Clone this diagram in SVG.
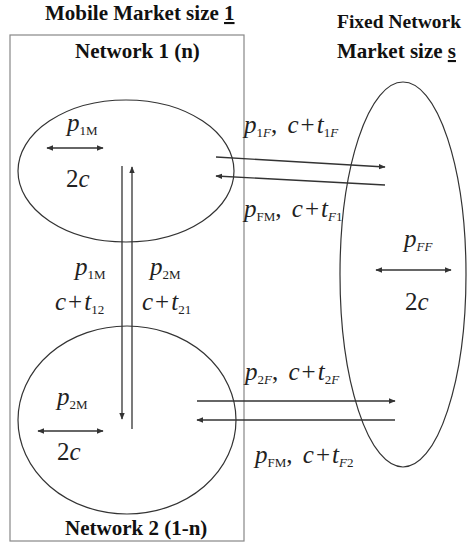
<svg xmlns="http://www.w3.org/2000/svg" width="467" height="547" viewBox="0 0 467 547">
<style>
.t{font-family:"Liberation Serif","Times New Roman",serif;font-weight:bold;font-size:21px;fill:#111}
.m{font-family:"Liberation Serif","Times New Roman",serif;font-size:25px;fill:#222}
.i{font-style:italic}
.s{font-size:13px}
.sh{fill:none;stroke:#333;stroke-width:1.2}
.bx{fill:none;stroke:#888;stroke-width:1.2}
.ln{stroke:#333;stroke-width:1.3;fill:none}
</style>
<defs>
<marker id="ah" viewBox="0 0 10 10" refX="9" refY="5" markerWidth="7" markerHeight="7" markerUnits="userSpaceOnUse" orient="auto-start-reverse">
<path d="M0,1 L10,5 L0,9 Z" fill="#333"/>
</marker>
</defs>
<g id="titles">
<text class="t" x="45" y="20">Mobile Market size <tspan text-decoration="underline">1</tspan></text>
<text class="t" x="337" y="28" style="font-size:19.5px">Fixed Network</text>
<text class="t" x="337" y="58">Market size <tspan text-decoration="underline">s</tspan></text>
</g>
<g id="mobile-market">
<rect class="bx" x="10" y="35" width="234" height="506"/>
</g>
<g id="network1">
<ellipse class="sh" cx="126" cy="171" rx="108" ry="71"/>
<text class="t" x="75" y="58">Network 1 (n)</text>
<text class="m" x="67" y="131"><tspan class="i">p</tspan><tspan class="s" dy="4">1M</tspan></text>
<line class="ln" x1="47" y1="148" x2="103" y2="148" marker-start="url(#ah)" marker-end="url(#ah)"/>
<text class="m" x="66" y="187">2<tspan class="i">c</tspan></text>
</g>
<g id="network2">
<ellipse class="sh" cx="127" cy="420" rx="109" ry="94"/>
<text class="t" x="65" y="535">Network 2 (1-n)</text>
<text class="m" x="57" y="405"><tspan class="i">p</tspan><tspan class="s" dy="4">2M</tspan></text>
<line class="ln" x1="38" y1="431" x2="103" y2="431" marker-start="url(#ah)" marker-end="url(#ah)"/>
<text class="m" x="57" y="460">2<tspan class="i">c</tspan></text>
</g>
<g id="fixed">
<ellipse class="sh" cx="403" cy="274.5" rx="63" ry="192.5"/>
<text class="m" x="404" y="247"><tspan class="i">p</tspan><tspan class="s i" dy="4">FF</tspan></text>
<line class="ln" x1="376" y1="270" x2="451" y2="270" marker-start="url(#ah)" marker-end="url(#ah)"/>
<text class="m" x="405" y="310">2<tspan class="i">c</tspan></text>
</g>
<g id="connectors">
<line class="ln" x1="122" y1="166" x2="122" y2="419" marker-end="url(#ah)"/>
<line class="ln" x1="132" y1="429" x2="132" y2="167" marker-end="url(#ah)"/>
<line class="ln" x1="216" y1="157" x2="385" y2="167" marker-end="url(#ah)"/>
<line class="ln" x1="385" y1="185" x2="216" y2="176" marker-end="url(#ah)"/>
<line class="ln" x1="197" y1="401" x2="395" y2="401" marker-end="url(#ah)"/>
<line class="ln" x1="395" y1="420" x2="197" y2="420" marker-end="url(#ah)"/>
</g>
<g id="labels">
<text class="m" x="75" y="275"><tspan class="i">p</tspan><tspan class="s" dy="4">1M</tspan></text>
<text class="m" x="150" y="275"><tspan class="i">p</tspan><tspan class="s" dy="4">2M</tspan></text>
<text class="m" x="55" y="310"><tspan class="i">c</tspan><tspan dx="2">+</tspan><tspan class="i" dx="2">t</tspan><tspan class="s" dy="4">12</tspan></text>
<text class="m" x="142" y="310"><tspan class="i">c</tspan><tspan dx="2">+</tspan><tspan class="i" dx="2">t</tspan><tspan class="s" dy="4">21</tspan></text>
<text class="m" x="244" y="133"><tspan class="i">p</tspan><tspan class="s" dy="4">1<tspan class="i">F</tspan></tspan><tspan dy="-4">, </tspan><tspan class="i" dx="4">c</tspan><tspan dx="2">+</tspan><tspan class="i" dx="2">t</tspan><tspan class="s" dy="4">1<tspan class="i">F</tspan></tspan></text>
<text class="m" x="244" y="217"><tspan class="i">p</tspan><tspan class="s" dy="4">FM</tspan><tspan dy="-4">, </tspan><tspan class="i" dx="4">c</tspan><tspan dx="2">+</tspan><tspan class="i" dx="2">t</tspan><tspan class="s" dy="4"><tspan class="i">F</tspan>1</tspan></text>
<text class="m" x="245" y="380"><tspan class="i">p</tspan><tspan class="s" dy="4">2<tspan class="i">F</tspan></tspan><tspan dy="-4">, </tspan><tspan class="i" dx="4">c</tspan><tspan dx="2">+</tspan><tspan class="i" dx="2">t</tspan><tspan class="s" dy="4">2<tspan class="i">F</tspan></tspan></text>
<text class="m" x="255" y="463"><tspan class="i">p</tspan><tspan class="s" dy="4">FM</tspan><tspan dy="-4">, </tspan><tspan class="i" dx="4">c</tspan><tspan dx="2">+</tspan><tspan class="i" dx="2">t</tspan><tspan class="s" dy="4"><tspan class="i">F</tspan>2</tspan></text>
</g>
</svg>
